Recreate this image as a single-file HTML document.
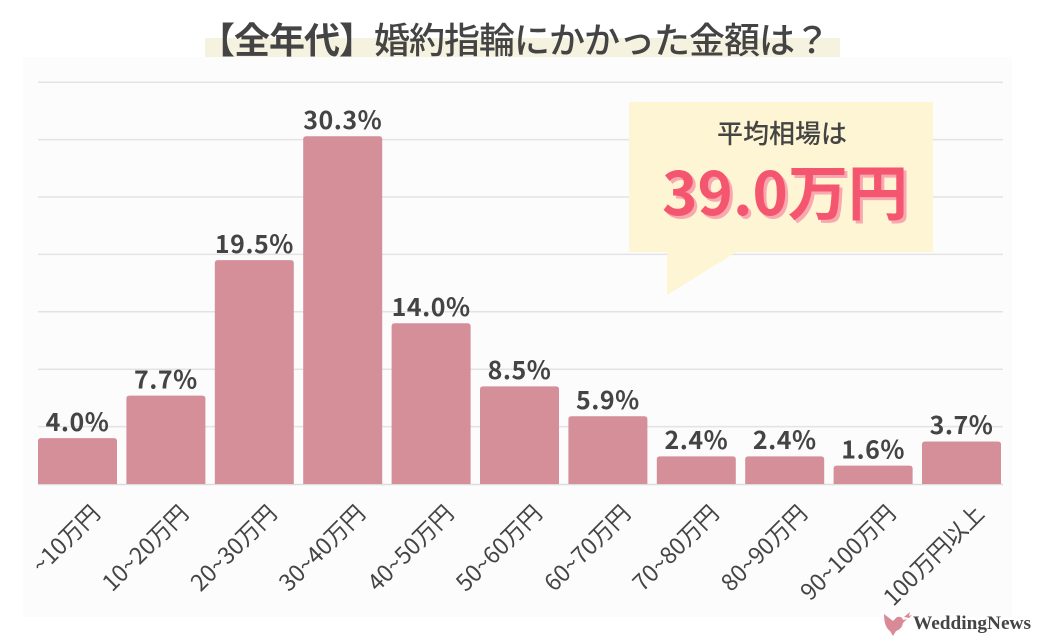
<!DOCTYPE html>
<html><head><meta charset="utf-8">
<style>
html,body{margin:0;padding:0;background:#fff;}
svg{display:block;}
.jp{font-family:"Noto Sans CJK JP","Liberation Sans",sans-serif;}
.logo{font-family:"Liberation Serif","DejaVu Serif",serif;}
</style></head>
<body>
<svg width="1040" height="642" viewBox="0 0 1040 642" xmlns="http://www.w3.org/2000/svg">
<rect x="0" y="0" width="1040" height="642" fill="#ffffff"/>
<rect x="23" y="57" width="989" height="560" fill="#fcfcfc"/>
<!-- title -->
<rect x="205" y="38" width="635" height="19" fill="#f6f2e0"/>
<text class="jp" x="199" y="53" font-size="36" letter-spacing="-1" fill="#444"><tspan font-weight="700">【全年代】</tspan><tspan font-weight="500">婚約指輪にかかった金額は？</tspan></text>
<!-- gridlines -->
<g stroke="#e3e3e3" stroke-width="1.5">
<line x1="38" y1="82.2" x2="1003" y2="82.2"/>
<line x1="38" y1="139.6" x2="1003" y2="139.6"/>
<line x1="38" y1="197" x2="1003" y2="197"/>
<line x1="38" y1="254.4" x2="1003" y2="254.4"/>
<line x1="38" y1="311.8" x2="1003" y2="311.8"/>
<line x1="38" y1="369.2" x2="1003" y2="369.2"/>
<line x1="38" y1="426.6" x2="1003" y2="426.6"/>
<line x1="38" y1="484.5" x2="1003" y2="484.5" stroke="#dcdcdc"/>
</g>
<!-- callout -->
<rect x="629" y="102" width="304" height="150" fill="#fdf5d3"/>
<polygon points="667,251 738,251 667,295" fill="#fdf5d3"/>
<text class="jp" x="782" y="143" font-size="26" font-weight="500" fill="#444" text-anchor="middle">平均相場は</text>
<text class="jp" x="788" y="218" font-size="60" font-weight="700" fill="#f9a8b0" text-anchor="middle">39.0万円</text>
<text class="jp" x="785" y="215" font-size="60" font-weight="700" fill="#f5566f" text-anchor="middle">39.0万円</text>
<!-- bars -->
<g fill="#d48f99">
<path d="M38,484 V441.1 Q38,438.1 41,438.1 H114 Q117,438.1 117,441.1 V484 Z"/>
<path d="M126.4,484 V398.6 Q126.4,395.6 129.4,395.6 H202.4 Q205.4,395.6 205.4,398.6 V484 Z"/>
<path d="M214.8,484 V263.1 Q214.8,260.1 217.8,260.1 H290.8 Q293.8,260.1 293.8,263.1 V484 Z"/>
<path d="M303.2,484 V139.2 Q303.2,136.2 306.2,136.2 H379.2 Q382.2,136.2 382.2,139.2 V484 Z"/>
<path d="M391.6,484 V326.3 Q391.6,323.3 394.6,323.3 H467.6 Q470.6,323.3 470.6,326.3 V484 Z"/>
<path d="M480,484 V389.4 Q480,386.4 483,386.4 H556 Q559,386.4 559,389.4 V484 Z"/>
<path d="M568.4,484 V419.3 Q568.4,416.3 571.4,416.3 H644.4 Q647.4,416.3 647.4,419.3 V484 Z"/>
<path d="M656.8,484 V459.4 Q656.8,456.4 659.8,456.4 H732.8 Q735.8,456.4 735.8,459.4 V484 Z"/>
<path d="M745.2,484 V459.4 Q745.2,456.4 748.2,456.4 H821.2 Q824.2,456.4 824.2,459.4 V484 Z"/>
<path d="M833.6,484 V468.6 Q833.6,465.6 836.6,465.6 H909.6 Q912.6,465.6 912.6,468.6 V484 Z"/>
<path d="M922,484 V444.5 Q922,441.5 925,441.5 H998 Q1001,441.5 1001,444.5 V484 Z"/>
</g>
<!-- value labels -->
<g font-size="25" font-weight="700" fill="#444" text-anchor="middle" letter-spacing="0.5">
<text class="jp" x="77.5" y="431">4.0%</text>
<text class="jp" x="165.9" y="388.5">7.7%</text>
<text class="jp" x="254.3" y="253">19.5%</text>
<text class="jp" x="342.7" y="129">30.3%</text>
<text class="jp" x="431.1" y="316">14.0%</text>
<text class="jp" x="519.5" y="379">8.5%</text>
<text class="jp" x="607.9" y="409">5.9%</text>
<text class="jp" x="696.3" y="449">2.4%</text>
<text class="jp" x="784.7" y="449">2.4%</text>
<text class="jp" x="873.1" y="458.5">1.6%</text>
<text class="jp" x="961.5" y="434">3.7%</text>
</g>
<!-- x labels -->
<g font-size="23" fill="#444" text-anchor="end">
<text class="jp" transform="translate(101.5,515) rotate(-45)">~10万円</text>
<text class="jp" transform="translate(189.9,515) rotate(-45)">10~20万円</text>
<text class="jp" transform="translate(278.3,515) rotate(-45)">20~30万円</text>
<text class="jp" transform="translate(366.7,515) rotate(-45)">30~40万円</text>
<text class="jp" transform="translate(455.1,515) rotate(-45)">40~50万円</text>
<text class="jp" transform="translate(543.5,515) rotate(-45)">50~60万円</text>
<text class="jp" transform="translate(631.9,515) rotate(-45)">60~70万円</text>
<text class="jp" transform="translate(720.3,515) rotate(-45)">70~80万円</text>
<text class="jp" transform="translate(808.7,515) rotate(-45)">80~90万円</text>
<text class="jp" transform="translate(897.1,515) rotate(-45)">90~100万円</text>
<text class="jp" transform="translate(985.5,515) rotate(-45)">100万円以上</text>
</g>
<!-- logo -->
<g fill="#d98a97">
<path d="M884,614 L893,621 L897,617 Q902,616 903,620 L907,619 L903,623 Q902,629 896,631 L893,636 L890,631 Q884,627 884,614 Z"/>
<path d="M904,617 L910,612 L909,616 L912,615 L909,618 Z"/>
</g>
<text class="logo" x="913" y="629" font-weight="700" font-size="18.5" fill="#444" textLength="118" lengthAdjust="spacingAndGlyphs">WeddingNews</text>
</svg>
</body></html>
